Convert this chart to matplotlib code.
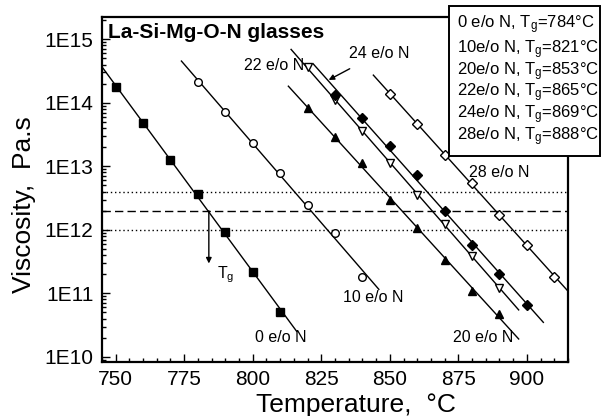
import numpy as np
import matplotlib
matplotlib.use('Agg')
import matplotlib.pyplot as plt
from matplotlib.patches import Rectangle
from matplotlib.ticker import MultipleLocator, LogLocator, FixedLocator, FixedFormatter

plt.rcParams['font.family'] = ['Liberation Sans', 'DejaVu Sans']
plt.rcParams['mathtext.fontset'] = 'custom'
plt.rcParams['mathtext.rm'] = 'Liberation Sans'
plt.rcParams['mathtext.it'] = 'Liberation Sans:italic'

# data (temperature in C, viscosity in Pa.s)
temps_0 = [750, 760, 770, 780, 790, 800, 810]
visc_0 = [1.76e14, 4.8e13, 1.26e13, 3.6e12, 9.3e11, 2.2e11, 5.1e10]
temps_10 = [780, 790, 800, 810, 820, 830, 840]
visc_10 = [2.1e14, 7.1e13, 2.3e13, 7.8e12, 2.45e12, 8.9e11, 1.8e11]
temps_20 = [820, 830, 840, 850, 860, 870, 880, 890]
visc_20 = [8.3e13, 2.9e13, 1.12e13, 2.95e12, 1.07e12, 3.3e11, 1.1e11, 4.8e10]
temps_22 = [820, 830, 840, 850, 860, 870, 880, 890]
visc_22 = [3.6e14, 1.12e14, 3.55e13, 1.12e13, 3.55e12, 1.23e12, 3.9e11, 1.2e11]
temps_24 = [830, 840, 850, 860, 870, 880, 890, 900]
visc_24 = [1.35e14, 5.8e13, 2.1e13, 7.2e12, 1.95e12, 5.8e11, 2.0e11, 6.6e10]
temps_28 = [850, 860, 870, 880, 890, 900, 910]
visc_28 = [1.4e14, 4.6e13, 1.5e13, 5.5e12, 1.7e12, 5.8e11, 1.8e11]

# range of the fitted lines
fit_ranges = [(740, 816), (774, 846), (813, 897), (814, 897), (822, 906), (844, 920)]

ref_levels = [1e12, 2e12, 4e12]
tg_values = [784, 821, 853, 865, 869, 888]
compositions = ['0 e/o N', '10e/o N', '20e/o N', '22e/o N', '24e/o N', '28e/o N']
ytick_vals = [1e10, 1e11, 1e12, 1e13, 1e14, 1e15]
ytick_labels = ['1E10', '1E11', '1E12', '1E13', '1E14', '1E15']

series = [
    (temps_0, visc_0, 's', 'k'),
    (temps_10, visc_10, 'o', 'white'),
    (temps_20, visc_20, '^', 'k'),
    (temps_22, visc_22, 'v', 'white'),
    (temps_24, visc_24, 'D', 'k'),
    (temps_28, visc_28, 'D', 'white'),
]

fig = plt.figure(figsize=(6.03, 4.16), dpi=100)
ax = fig.add_axes([0.169, 0.130, 0.773, 0.829])

for (t, v, mk, fc), (t0, t1) in zip(series, fit_ranges):
    coef = np.polyfit(t, np.log10(v), 1)
    tt = np.array([t0, t1])
    ax.plot(tt, 10 ** np.polyval(coef, tt), color='k', lw=1.0, zorder=2)
    ms = 4.8 if mk == 'D' else 5.5
    ax.plot(t, v, linestyle='none', marker=mk, ms=ms, mfc=fc, mec='k', mew=1.0, zorder=3)

ax.axhline(ref_levels[0], color='k', lw=1.0, ls=(0, (1, 2)), zorder=1)
ax.axhline(ref_levels[1], color='k', lw=1.0, ls=(0, (6, 3)), zorder=1)
ax.axhline(ref_levels[2], color='k', lw=1.0, ls=(0, (1, 2)), zorder=1)

ax.set_yscale('log')
ax.set_xlim(745, 915)
ax.set_ylim(10 ** 9.92, 10 ** 15.35)
ax.xaxis.set_major_locator(MultipleLocator(25))
ax.xaxis.set_minor_locator(MultipleLocator(5))
ax.yaxis.set_major_locator(FixedLocator(ytick_vals))
ax.yaxis.set_major_formatter(FixedFormatter(ytick_labels))
ax.yaxis.set_minor_locator(LogLocator(base=10, subs=np.arange(2, 10)))
ax.yaxis.set_minor_formatter(plt.NullFormatter())
ax.tick_params(which='both', direction='in', top=False, right=False, width=1.0,
               labelsize=15, pad=6)
ax.tick_params(which='major', length=6)
ax.tick_params(which='minor', length=3)
for sp in ax.spines.values():
    sp.set_linewidth(1.6)

ax.set_xlabel('Temperature,  °C', fontsize=19)
ax.set_ylabel('Viscosity,  Pa.s', fontsize=19)
ax.xaxis.set_label_coords(0.546, -0.09)
ax.yaxis.set_label_coords(-0.142, 0.457)

ax.text(0.013, 0.954, 'La-Si-Mg-O-N glasses', transform=ax.transAxes, fontsize=15,
        fontweight='bold', va='center', ha='left')

fs = 11.5
ax.text(818.6, 10 ** 14.59, '22 e/o N', fontsize=fs, ha='right', va='center')
ax.text(878.8, 10 ** 12.91, '28 e/o N', fontsize=fs, ha='left', va='center')
ax.text(832.8, 10 ** 10.93, '10 e/o N', fontsize=fs, ha='left', va='center')
ax.text(873, 10 ** 10.31, '20 e/o N', fontsize=fs, ha='left', va='center')
ax.text(801, 10 ** 10.30, '0 e/o N', fontsize=fs, ha='left', va='center')
ax.annotate('24 e/o N', xy=(827.7, 10 ** 14.36), xytext=(846, 10 ** 14.78),
            fontsize=fs, ha='center', va='center',
            arrowprops=dict(arrowstyle='-|>', color='k', lw=1.0, shrinkA=8, shrinkB=0,
                            mutation_scale=8))
ax.annotate('', xy=(tg_values[0], 10 ** 11.47), xytext=(tg_values[0], ref_levels[1]),
            arrowprops=dict(arrowstyle='-|>', color='k', lw=1.0, shrinkA=0, shrinkB=0,
                            mutation_scale=8))
ax.text(787, 10 ** 11.29, r'T$_\mathregular{g}$', fontsize=fs, ha='left', va='center')

# legend box (text only)
box = Rectangle((0.745, 0.625), 0.25, 0.361, transform=fig.transFigure,
                facecolor='white', edgecolor='k', lw=1.4, zorder=5)
fig.add_artist(box)
line_y = [25, 50, 72, 93, 115, 137]
for comp, tg, yp in zip(compositions, tg_values, line_y):
    fig.text(457 / 603, 1 - yp / 416, r'%s, T$_\mathregular{g}$=%d°C' % (comp, tg),
             fontsize=12, ha='left', va='center', zorder=6)

fig.savefig('out.png', dpi=100)
